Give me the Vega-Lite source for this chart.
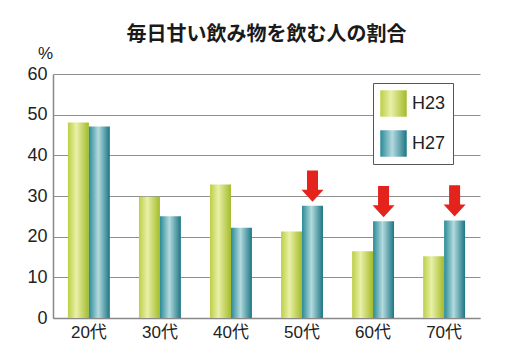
{
  "$schema": "https://vega.github.io/schema/vega-lite/v6.json",
  "width": 427,
  "height": 244,
  "autosize": {"type": "none"},
  "padding": {"left": 53, "top": 74, "right": 25, "bottom": 41},
  "background": "white",
  "title": {
    "text": "毎日甘い飲み物を飲む人の割合",
    "font": "Noto Sans CJK JP",
    "fontSize": 20,
    "fontWeight": "bold",
    "color": "#1a1a1a",
    "anchor": "middle",
    "frame": "group",
    "baseline": "middle",
    "offset": 11,
    "dy": 22
  },
  "config": {
    "view": {"stroke": null},
    "font": "Liberation Sans"
  },
  "data": {
    "values": [
      {"age": "20代", "series": "H23", "value": 48.1},
      {"age": "20代", "series": "H27", "value": 47.1},
      {"age": "30代", "series": "H23", "value": 29.8},
      {"age": "30代", "series": "H27", "value": 25.0},
      {"age": "40代", "series": "H23", "value": 32.8},
      {"age": "40代", "series": "H27", "value": 22.2},
      {"age": "50代", "series": "H23", "value": 21.3},
      {"age": "50代", "series": "H27", "value": 27.6},
      {"age": "60代", "series": "H23", "value": 16.4},
      {"age": "60代", "series": "H27", "value": 23.8},
      {"age": "70代", "series": "H23", "value": 15.2},
      {"age": "70代", "series": "H27", "value": 24.0}
    ]
  },
  "encoding": {
    "x": {
      "field": "age",
      "type": "nominal",
      "sort": null,
      "scale": {"paddingInner": 0.41, "paddingOuter": 0.21},
      "axis": {
        "title": null,
        "labelAngle": 0,
        "labelFont": "Liberation Sans, Noto Sans CJK JP",
        "labelFontSize": 17,
        "labelColor": "#222",
        "labelPadding": 6,
        "ticks": false,
        "domainColor": "#888",
        "domainWidth": 1.5
      }
    },
    "xOffset": {
      "field": "series",
      "type": "nominal",
      "scale": {"domain": ["H23", "H27"], "paddingInner": 0, "paddingOuter": 0}
    },
    "y": {
      "field": "value",
      "type": "quantitative",
      "scale": {"domain": [0, 60], "nice": false},
      "axis": {
        "values": [0, 10, 20, 30, 40, 50, 60],
        "title": "%",
        "titleAngle": 0,
        "titleX": -8,
        "titleY": -21,
        "titleAlign": "center",
        "titleBaseline": "middle",
        "titleFontSize": 17,
        "titleFontWeight": "normal",
        "titleColor": "#222",
        "labelFontSize": 18,
        "labelColor": "#222",
        "labelPadding": 6,
        "ticks": false,
        "domainColor": "#888",
        "domainWidth": 1.5,
        "gridColor": "#8f8f8f",
        "gridWidth": 1.2
      }
    }
  },
  "layer": [
    {
      "mark": {"type": "bar"},
      "encoding": {
        "color": {
          "field": "series",
          "type": "nominal",
          "scale": {
            "domain": ["H23", "H27"],
            "range": [
              {"expr": "{gradient: 'linear', x1: 0, y1: 0, x2: 1, y2: 0, stops: [{offset: 0, color: '#bccf45'}, {offset: 0.4, color: '#e9f0a8'}, {offset: 1, color: '#a3bb28'}]}"},
              {"expr": "{gradient: 'linear', x1: 0, y1: 0, x2: 1, y2: 0, stops: [{offset: 0, color: '#2a8a97'}, {offset: 0.45, color: '#b3dade'}, {offset: 1, color: '#1c7684'}]}"}
            ]
          },
          "legend": {
            "orient": "none",
            "legendX": 320,
            "legendY": 9,
            "title": null,
            "symbolType": "square",
            "symbolSize": 700,
            "symbolStrokeWidth": 0,
            "symbolOpacity": 1,
            "labelFontSize": 18,
            "labelColor": "#222",
            "labelOffset": 5,
            "rowPadding": 13,
            "padding": 7,
            "strokeColor": "#555",
            "fillColor": "white"
          }
        }
      }
    },
    {
      "transform": [
        {"filter": {"field": "age", "oneOf": ["50代", "60代", "70代"]}},
        {"filter": {"field": "series", "equal": "H27"}}
      ],
      "mark": {
        "type": "point",
        "shape": "M-0.5,-3.2L0.5,-3.2L0.5,-1.45L1,-1.45L0,-0.36L-1,-1.45L-0.5,-1.45Z",
        "size": 484,
        "filled": true,
        "color": "#e5231d",
        "opacity": 1,
        "strokeWidth": 0
      }
    }
  ]
}
